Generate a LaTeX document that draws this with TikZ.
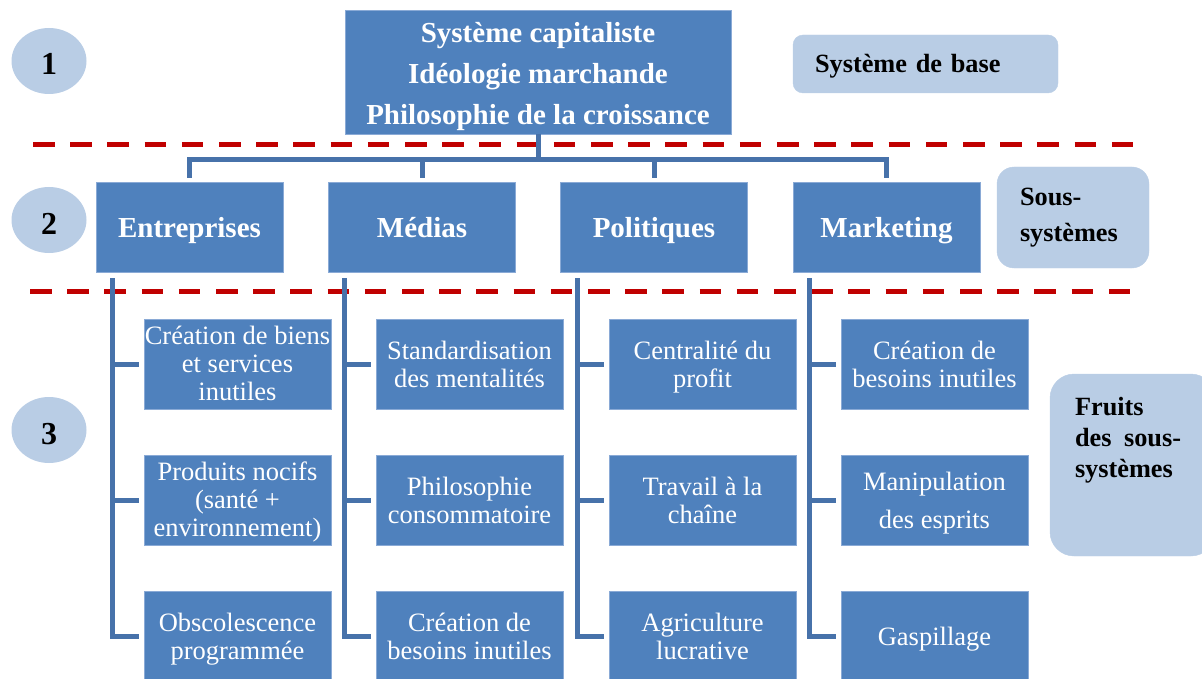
\documentclass[tikz,border=0pt]{standalone}
\usepackage{fontspec}
\setmainfont{Liberation Serif}
\usetikzlibrary{shapes.geometric,positioning}
\definecolor{boxblue}{HTML}{4F81BD}
\definecolor{boxedge}{HTML}{8AAAD6}
\definecolor{paleblue}{HTML}{B9CDE5}
\definecolor{linkblue}{HTML}{4772AA}
\definecolor{sepred}{HTML}{C00000}
\newcommand{\headstrut}[1]{\rule{0pt}{#1}}
\newcommand{\lowerstrut}[1]{\rule[-#1]{0pt}{#1}}

\begin{document}
\begin{tikzpicture}[x=1pt, y=-1pt,
  topbox/.style={draw=boxedge, line width=0.8pt, fill=boxblue, text=white, align=center, inner sep=0pt, minimum width=386pt, minimum height=124pt, font=\fontsize{29}{41}\selectfont\bfseries, execute at end node=\lowerstrut{9pt}},
  subbox/.style={draw=boxedge, line width=0.8pt, fill=boxblue, text=white, inner sep=0pt, minimum width=187pt, minimum height=90pt, font=\fontsize{29}{34}\selectfont\bfseries, execute at begin node=\headstrut{31.8pt}, execute at end node=\lowerstrut{10.2pt}},
  fruitbox/.style={draw=boxedge, line width=0.8pt, fill=boxblue, text=white, align=center, inner sep=0pt, minimum width=187pt, minimum height=90pt, font=\fontsize{26.5}{28}\selectfont, execute at end node=\lowerstrut{8.4pt}},
  levelmark/.style={ellipse, fill=paleblue, minimum width=75pt, minimum height=66pt, inner sep=0pt, text height=28pt, text depth=0pt, font=\fontsize{32}{36}\selectfont\bfseries},
  sidebox/.style={fill=paleblue, draw=paleblue, inner ysep=0pt, align=left, font=\fontsize{26.3}{36}\selectfont\bfseries},
  link/.style={draw=linkblue, line width=5pt},
  sepline/.style={draw=sepred, line width=5pt, dash pattern=on 21.5pt off 15.7pt}]

\useasboundingbox (0,0) rectangle (1202,679);

% levels
\node[levelmark] (n1) at (49,61) {1};
\node[levelmark] (n2) at (49,220) {2};
\node[levelmark] (n3) at (49,430) {3};

% system
\node[topbox] (root) at (538,72) {\headstrut{32.5pt}Système capitaliste\\Idéologie marchande\\Philosophie de la croissance};
\node[sidebox, rounded corners=10pt, minimum width=265pt, minimum height=58pt, text width=221pt, inner xsep=22pt, font=\fontsize{26.3}{30}\selectfont\bfseries, execute at begin node=\headstrut{25.5pt}, execute at end node=\lowerstrut{9pt}] (base) at (925.5,64) {Système de base};

% sub-systems
\node[subbox] (ent) at (189.5,227) {Entreprises};
\node[subbox] (med) at (422,227) {Médias};
\node[subbox] (pol) at (654,227) {Politiques};
\node[subbox] (mkt) at (886.5,227) {Marketing};
\node[sidebox, rounded corners=17pt, minimum width=152pt, minimum height=101pt, text width=106pt, inner xsep=23pt] (sous) at (1073,217.5) {Sous-\\systèmes};

% fruits
\node[fruitbox] (ent1) at (237.5,364) {\headstrut{25.6pt}Création de biens\\et services\\inutiles};
\node[fruitbox] (ent2) at (237.5,500) {\headstrut{25.6pt}Produits nocifs\\(santé +\\environnement)};
\node[fruitbox] (ent3) at (237.5,636) {\headstrut{27.6pt}Obscolescence\\programmée};
\node[fruitbox] (med1) at (469.5,364) {\headstrut{27.6pt}Standardisation\\des mentalités};
\node[fruitbox] (med2) at (469.5,500) {\headstrut{27.6pt}Philosophie\\consommatoire};
\node[fruitbox] (med3) at (469.5,636) {\headstrut{27.6pt}Création de\\besoins inutiles};
\node[fruitbox] (pol1) at (702.5,364) {\headstrut{27.6pt}Centralité du\\profit};
\node[fruitbox] (pol2) at (702.5,500) {\headstrut{27.6pt}Travail à la\\chaîne};
\node[fruitbox] (pol3) at (702.5,636) {\headstrut{27.6pt}Agriculture\\lucrative};
\node[fruitbox] (mkt1) at (934.5,364) {\headstrut{27.6pt}Création de\\besoins inutiles};
\node[fruitbox] (mkt2) at (934.5,500) {\headstrut{27.6pt}Manipulation\\[10pt]des esprits};
\node[fruitbox] (mkt3) at (934.5,636) {\headstrut{27.6pt}Gaspillage};
\node[sidebox, rounded corners=24pt, minimum width=165pt, minimum height=182pt] (fruits) at (1132.5,465) {};
\node[sidebox, fill=none, draw=none, inner sep=0pt, anchor=north west, font=\fontsize{26.3}{31}\selectfont\bfseries] (fruitslbl) at ([xshift=25pt,yshift=-23.5pt]fruits.north west) {Fruits\\des\hspace{12.5pt}sous-\\systèmes};

% separators
\coordinate (sepAw) at (33,145);
\coordinate (sepAe) at (1135,145);
\coordinate (sepBw) at (30,291);
\coordinate (sepBe) at (1132,291);
\draw[sepline] (sepAw) -- (sepAe);
\draw[sepline] (sepBw) -- (sepBe);

% tree
\coordinate (bus) at (538,160);
\draw[link] (root.south) -- (bus);
\draw[link] ([yshift=4pt]ent.north) |- (bus);
\draw[link] ([yshift=4pt]med.north) |- (bus);
\draw[link] ([yshift=4pt]pol.north) |- (bus);
\draw[link] ([yshift=4pt]mkt.north) |- (bus);

\coordinate (t1) at ([xshift=17pt,yshift=-6pt]ent.south west);
\coordinate (t2) at ([xshift=16pt,yshift=-6pt]med.south west);
\coordinate (t3) at ([xshift=17pt,yshift=-6pt]pol.south west);
\coordinate (t4) at ([xshift=17pt,yshift=-6pt]mkt.south west);

\draw[link] (t1) |- ([xshift=-5pt]ent3.west);
\draw[link] (t1 |- ent1.west) -- ([xshift=-5pt]ent1.west);
\draw[link] (t1 |- ent2.west) -- ([xshift=-5pt]ent2.west);
\draw[link] (t2) |- ([xshift=-5pt]med3.west);
\draw[link] (t2 |- med1.west) -- ([xshift=-5pt]med1.west);
\draw[link] (t2 |- med2.west) -- ([xshift=-5pt]med2.west);
\draw[link] (t3) |- ([xshift=-5pt]pol3.west);
\draw[link] (t3 |- pol1.west) -- ([xshift=-5pt]pol1.west);
\draw[link] (t3 |- pol2.west) -- ([xshift=-5pt]pol2.west);
\draw[link] (t4) |- ([xshift=-5pt]mkt3.west);
\draw[link] (t4 |- mkt1.west) -- ([xshift=-5pt]mkt1.west);
\draw[link] (t4 |- mkt2.west) -- ([xshift=-5pt]mkt2.west);

\end{tikzpicture}
\end{document}
